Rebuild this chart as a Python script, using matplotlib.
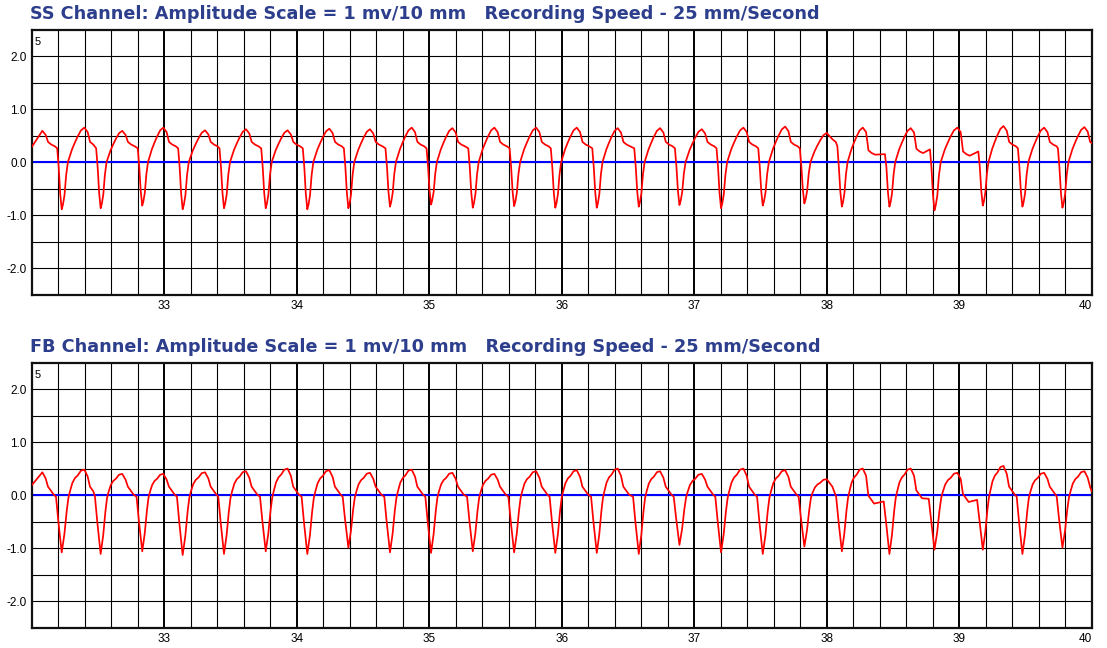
import numpy as np
import matplotlib
matplotlib.use("Agg")
import matplotlib.pyplot as plt

# ---------------- data ----------------
# times (s) of the deep negative spikes (shared by both channels)
spike_t = [32.225, 32.519, 32.833, 33.138, 33.450, 33.765, 34.079, 34.389,
           34.703, 35.013, 35.328, 35.640, 35.951, 36.264, 36.581, 36.888,
           37.202, 37.517, 37.831, 38.114, 38.473, 38.813, 39.178, 39.477,
           39.779]
# times (s) of the positive peaks (one before the first spike, one after each)
peak_t = [32.079, 32.396, 32.682, 32.992, 33.307, 33.616, 33.930, 34.245,
          34.552, 34.867, 35.174, 35.491, 35.806, 36.113, 36.422, 36.742,
          37.057, 37.371, 37.686, 38.000, 38.272, 38.634, 38.986, 39.334,
          39.641, 39.945]

# SS channel
ss_depth = [-0.89, -0.87, -0.82, -0.89, -0.87, -0.87, -0.89, -0.87, -0.84,
            -0.80, -0.86, -0.83, -0.86, -0.86, -0.84, -0.81, -0.87, -0.82,
            -0.78, -0.84, -0.84, -0.91, -0.82, -0.84, -0.86]
ss_peak = [0.59, 0.65, 0.59, 0.65, 0.60, 0.62, 0.60, 0.63, 0.62, 0.65, 0.64,
           0.65, 0.65, 0.65, 0.64, 0.64, 0.62, 0.65, 0.67, 0.55, 0.65, 0.64,
           0.65, 0.68, 0.65, 0.66]
ss_shoulder = [0.30, 0.30, 0.30, 0.30, 0.30, 0.30, 0.30, 0.30, 0.30, 0.30,
               0.30, 0.30, 0.30, 0.30, 0.30, 0.30, 0.30, 0.30, 0.30, 0.35,
               0.14, 0.17, 0.12, 0.30, 0.30, 0.30]
ss_prespike = [0.26, 0.26, 0.26, 0.26, 0.26, 0.26, 0.26, 0.26, 0.26, 0.26,
               0.26, 0.26, 0.26, 0.26, 0.26, 0.26, 0.26, 0.26, 0.26, 0.30,
               0.15, 0.24, 0.20, 0.26, 0.26]
ss_start, ss_end = 0.29, 0.36

# FB channel
fb_depth = [-1.08, -1.11, -1.06, -1.13, -1.11, -1.06, -1.11, -0.99, -1.08,
            -1.09, -1.06, -1.08, -1.09, -1.09, -1.11, -0.94, -1.08, -1.11,
            -0.97, -1.06, -1.11, -1.03, -1.03, -1.11, -0.99]
fb_peak = [0.43, 0.48, 0.40, 0.40, 0.43, 0.45, 0.50, 0.47, 0.42, 0.48, 0.42,
           0.40, 0.45, 0.47, 0.50, 0.45, 0.40, 0.50, 0.47, 0.30, 0.50, 0.50,
           0.42, 0.55, 0.42, 0.45]
fb_shoulder = [0.07, 0.07, 0.07, 0.07, 0.07, 0.07, 0.07, 0.07, 0.07, 0.07,
               0.07, 0.07, 0.07, 0.07, 0.07, 0.07, 0.07, 0.07, 0.07, 0.07,
               -0.10, 0.00, -0.07, 0.07, 0.07, 0.07]
fb_prespike = [-0.03, -0.03, -0.03, -0.03, -0.03, -0.03, -0.03, -0.03, -0.03,
               -0.03, -0.03, -0.03, -0.03, -0.03, -0.03, -0.03, -0.03, -0.03,
               -0.03, -0.03, -0.12, -0.07, -0.09, -0.03, -0.03]
fb_start, fb_end = 0.19, 0.07

# beat shape read from one beat of each channel
# upstroke: (fraction of spike->peak time, 'd' depth-relative / 'p' peak-relative, factor)
ss_up = [(0.055, 'd', 0.90), (0.123, 'd', 0.70), (0.195, 'd', 0.28),
         (0.273, 'p', 0.00), (0.350, 'p', 0.16), (0.455, 'p', 0.37),
         (0.577, 'p', 0.56), (0.695, 'p', 0.73), (0.850, 'p', 0.92)]
fb_up = [(0.119, 'd', 0.68), (0.220, 'd', 0.28), (0.295, 'd', 0.05),
         (0.366, 'p', 0.15), (0.471, 'p', 0.48), (0.586, 'p', 0.67),
         (0.705, 'p', 0.77), (0.850, 'p', 0.96)]
# after the peak: (pixels after peak, 'p' factor / 's' shoulder offset)
ss_post = [(3.3, 'p', 0.87), (5.7, 's', 0.08), (9.0, 's', 0.03), (12.3, 's', 0.0)]
fb_post = [(3.3, 'p', 0.73), (5.6, 's', 0.09), (9.0, 's', 0.0), (11.3, 's', -0.06)]
# before the spike: (pixels before spike, 'b' pre-spike value / 'd' depth factor)
ss_pre = [(4.5, 'b', 0.0), (3.0, 'd', 0.11), (1.5, 'd', 0.67)]
fb_pre = [(5.7, 'b', 0.0), (3.4, 'd', 0.45), (1.0, 'd', 0.85)]

PX = 1.0 / 132.46  # seconds per pixel of the reference


def build(depth, peak, shoulder, prespike, start, end, up, post, pre):
    ts_, vs_ = [32.0], [start]
    for i in range(len(peak_t)):
        tp, p = peak_t[i], peak[i]
        if i > 0:
            t0, d0 = spike_t[i - 1], depth[i - 1]
            for f, kind, k in up:
                ts_.append(t0 + f * (tp - t0))
                vs_.append(k * d0 if kind == 'd' else k * p)
        ts_.append(tp)
        vs_.append(p)
        s = shoulder[i]
        if i < len(spike_t):
            tn = spike_t[i]
            limit = tn - (pre[0][0] + 0.8) * PX
            for dt, kind, k in post:
                t = tp + dt * PX
                if t < limit:
                    ts_.append(t)
                    vs_.append(p * k if kind == 'p' else s + k)
            for dt, kind, k in pre:
                ts_.append(tn - dt * PX)
                vs_.append(prespike[i] if kind == 'b' else k * depth[i])
            ts_.append(tn)
            vs_.append(depth[i])
        else:
            for dt, kind, k in post:
                t = tp + dt * PX
                if t < 40.0:
                    ts_.append(t)
                    vs_.append(p * k if kind == 'p' else s + k)
            ts_.append(40.0)
            vs_.append(end)
    return np.array(ts_), np.array(vs_)


panels = [
    ("SS Channel: Amplitude Scale = 1 mv/10 mm   Recording Speed - 25 mm/Second",
     build(ss_depth, ss_peak, ss_shoulder, ss_prespike, ss_start, ss_end,
           ss_up, ss_post, ss_pre)),
    ("FB Channel: Amplitude Scale = 1 mv/10 mm   Recording Speed - 25 mm/Second",
     build(fb_depth, fb_peak, fb_shoulder, fb_prespike, fb_start, fb_end,
           fb_up, fb_post, fb_pre)),
]

x_ticks = [33, 34, 35, 36, 37, 38, 39, 40]
y_ticks = [-2.0, -1.0, 0.0, 1.0, 2.0]
y_labels = ["-2.0", "-1.0", "0.0", "1.0", "2.0"]

W, H = 1107, 648
fig = plt.figure(figsize=(W / 100, H / 100), dpi=100)
plt.rcParams['font.family'] = ['Liberation Sans', 'DejaVu Sans']

ax_left = 31.9 / W
ax_w = (1091.7 - 31.9) / W
ax_h = (294.7 - 29.5) / H
tops = [29.5, 362.5]
title_base = [19.0, 352.0]

for (title, (tx, vy)), top, tb in zip(panels, tops, title_base):
    ax = fig.add_axes([ax_left, 1 - (top / H) - ax_h, ax_w, ax_h])
    ax.set_xlim(32, 40)
    ax.set_ylim(-2.5, 2.5)
    # paper grid
    for xv in np.arange(32.2, 39.9, 0.2):
        major = abs(xv - round(xv)) < 1e-6
        ax.axvline(xv, color='black', lw=1.4 if major else 0.8, zorder=1)
    for yv in np.arange(-2.0, 2.01, 0.5):
        ax.axhline(yv, color='black', lw=0.8, zorder=1)
    ax.axhline(0.0, color='#0000ff', lw=1.5, zorder=2)
    ax.plot(tx, vy, color='#ff0000', lw=1.25, zorder=3, solid_joinstyle='round')
    for sp in ax.spines.values():
        sp.set_linewidth(1.6)
        sp.set_color('#111111')
    ax.set_xticks(x_ticks)
    ax.set_xticklabels([str(v) for v in x_ticks])
    ax.get_xticklabels()[-1].set_horizontalalignment('right')
    ax.set_yticks(y_ticks)
    ax.set_yticklabels(y_labels)
    ax.tick_params(length=0, labelsize=8.5, pad=3.5)
    ax.text(0.0025, 0.972, "5", transform=ax.transAxes, ha='left', va='top',
            fontsize=8)
    fig.text(30 / W, 1 - tb / H, title, ha='left', va='baseline',
             fontsize=12.7, fontweight='bold', color='#2c3e8c',
             family='DejaVu Sans')

fig.savefig("out.png", dpi=100)
